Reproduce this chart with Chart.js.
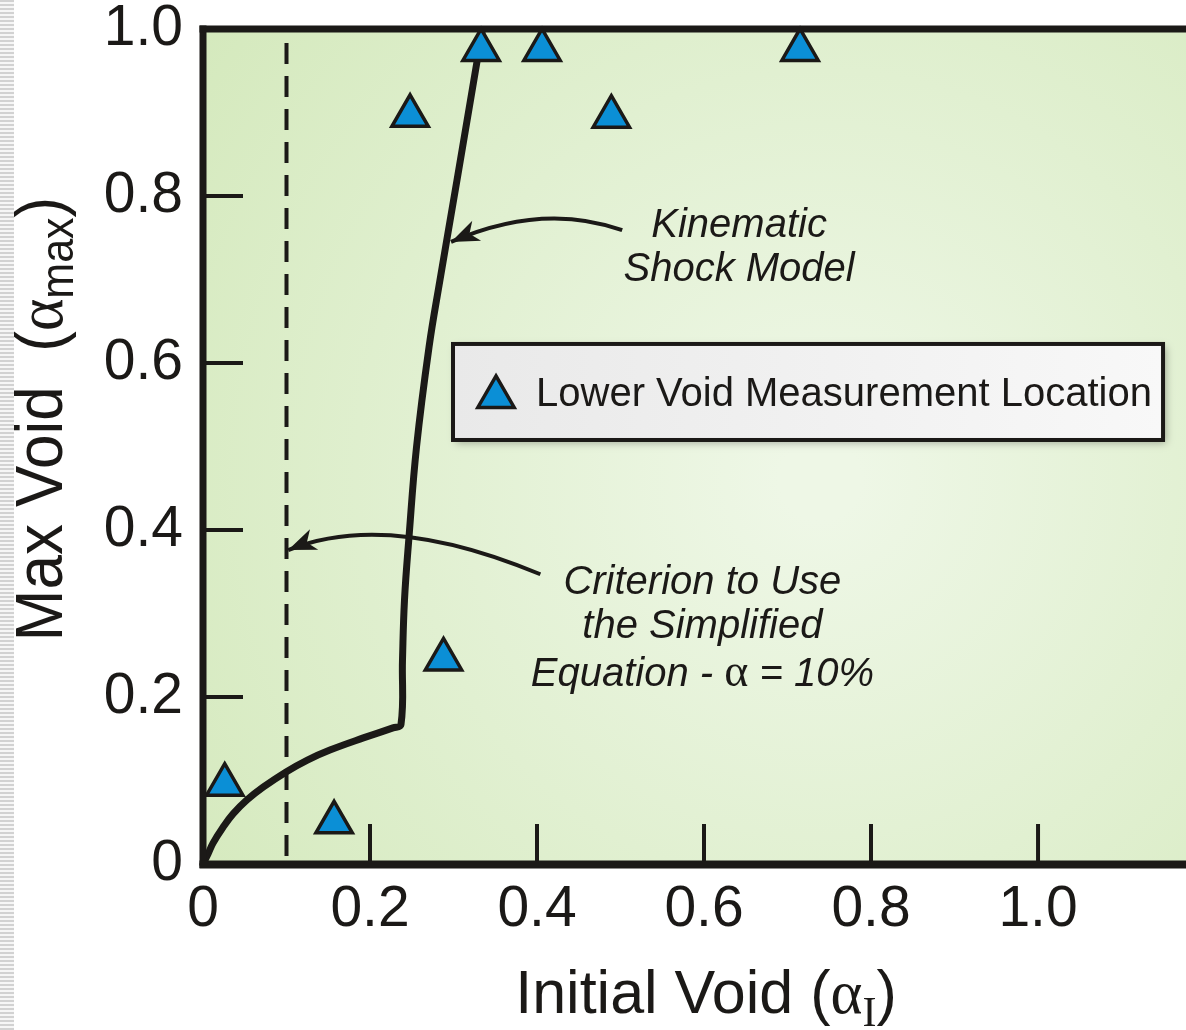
<!DOCTYPE html>
<html>
<head>
<meta charset="utf-8">
<script src="https://cdn.jsdelivr.net/npm/chart.js@4.4.1/dist/chart.umd.min.js"></script>
<style>
  html, body { margin: 0; padding: 0; background: #fff; overflow: hidden; }
  #wrap { position: relative; width: 1186px; height: 1030px; }
  #chart { display: block; }
  #strip { position: absolute; left: 0; top: 0; width: 14px; height: 1030px;
           background: repeating-linear-gradient(to bottom, #d2d2d2 0 2px, #f6f6f6 2px 4px); }
</style>
</head>
<body>
<div id="wrap"><canvas id="chart" width="1186" height="1030"></canvas><div id="strip"></div></div>
<script>
// axis ticks
const xTicks = [0, 0.2, 0.4, 0.6, 0.8, 1.0];
const xTickLabels = ['0', '0.2', '0.4', '0.6', '0.8', '1.0'];
const yTicks = [0, 0.2, 0.4, 0.6, 0.8, 1.0];
const yTickLabels = ['0', '0.2', '0.4', '0.6', '0.8', '1.0'];

// lower void measurement location (triangles)
const measX = [0.026, 0.157, 0.288, 0.248, 0.333, 0.406, 0.489, 0.715];
const measY = [0.095, 0.050, 0.245, 0.896, 0.975, 0.975, 0.895, 0.975];

// kinematic shock model curve
const modelX = [0, 0.006, 0.012, 0.024, 0.036, 0.053, 0.072, 0.099, 0.125, 0.152, 0.192, 0.2275, 0.2371,
                0.2389, 0.2413, 0.2467, 0.2557, 0.2707, 0.2838, 0.3042, 0.3341];
const modelY = [0, 0.012, 0.025, 0.044, 0.060, 0.077, 0.092, 0.110, 0.1245, 0.1365, 0.151, 0.163, 0.167,
                0.2443, 0.3162, 0.3916, 0.4994, 0.6192, 0.6994, 0.8192, 0.9964];

// criterion alpha = 10%
const criterionX = 0.1;

const SANS = "'Liberation Sans', Arial, sans-serif";
const SERIF = "'Liberation Serif', 'Times New Roman', serif";
const INK = '#1b1917';

// annotation anchors, in data units
const kinText = { x: 0.642, y: [0.751, 0.698], lines: ['Kinematic', 'Shock Model'] };
const critText = { x: 0.598, y: [0.323, 0.271, 0.213] };
const kinArrow = { from: [0.502, 0.759], ctrl: [0.407, 0.793], to: [0.297, 0.745] };
const critArrow = { from: [0.404, 0.347], ctrl: [0.220, 0.424], to: [0.102, 0.376] };
const legendBox = { x0: 0.2994, x1: 1.1497, y0: 0.6228, y1: 0.5078 };

function px(chart, x, y) {
  return [chart.scales.x.getPixelForValue(x), chart.scales.y.getPixelForValue(y)];
}

function drawParts(ctx, parts, cx, baseY) {
  let total = 0;
  parts.forEach(p => { ctx.font = p.font; p.w = ctx.measureText(p.t).width; total += p.w; });
  let x = cx - total / 2;
  ctx.textAlign = 'left';
  ctx.textBaseline = 'alphabetic';
  parts.forEach(p => { ctx.font = p.font; ctx.fillText(p.t, x, baseY + (p.dy || 0)); x += p.w; });
}

function arrow(ctx, chart, a) {
  const p0 = px(chart, a.from[0], a.from[1]);
  const c = px(chart, a.ctrl[0], a.ctrl[1]);
  const p2 = px(chart, a.to[0], a.to[1]);
  ctx.beginPath();
  ctx.moveTo(p0[0], p0[1]);
  ctx.quadraticCurveTo(c[0], c[1], p2[0], p2[1]);
  ctx.lineWidth = 4;
  ctx.strokeStyle = INK;
  ctx.stroke();
  const dx = p2[0] - c[0], dy = p2[1] - c[1];
  const len = Math.hypot(dx, dy);
  const ux = dx / len, uy = dy / len, nx = -uy, ny = ux;
  const L = 28, W = 11;
  ctx.beginPath();
  ctx.moveTo(p2[0], p2[1]);
  ctx.lineTo(p2[0] - ux * L + nx * W, p2[1] - uy * L + ny * W);
  ctx.lineTo(p2[0] - ux * L * 0.72, p2[1] - uy * L * 0.72);
  ctx.lineTo(p2[0] - ux * L - nx * W, p2[1] - uy * L - ny * W);
  ctx.closePath();
  ctx.fillStyle = INK;
  ctx.fill();
}

const decor = {
  id: 'decor',
  beforeDraw(chart) {
    const { ctx, chartArea: a } = chart;
    const g = ctx.createRadialGradient(820, 480, 40, 820, 480, 780);
    g.addColorStop(0, '#eef7e6');
    g.addColorStop(1, '#d4e9bc');
    ctx.save();
    ctx.fillStyle = g;
    ctx.fillRect(a.left, a.top, a.right - a.left, a.bottom - a.top);
    ctx.restore();
  },
  beforeDatasetsDraw(chart) {
    const { ctx, chartArea: a, scales } = chart;
    ctx.save();
    ctx.strokeStyle = INK;
    ctx.lineWidth = 4;
    scales.x.ticks.forEach(t => {
      const x = scales.x.getPixelForValue(t.value);
      ctx.beginPath(); ctx.moveTo(x, a.bottom); ctx.lineTo(x, a.bottom - 40); ctx.stroke();
    });
    scales.y.ticks.forEach(t => {
      const y = scales.y.getPixelForValue(t.value);
      ctx.beginPath(); ctx.moveTo(a.left, y); ctx.lineTo(a.left + 40, y); ctx.stroke();
    });
    ctx.restore();
  },
  afterDatasetsDraw(chart) {
    const { ctx, chartArea: a } = chart;
    ctx.save();
    // frame (left, top, bottom; right side runs off the page)
    ctx.fillStyle = INK;
    ctx.fillRect(a.left - 3.5, a.top - 3.5, 7, a.bottom - a.top + 7.5);
    ctx.fillRect(a.left - 3.5, a.top - 3.5, a.right - a.left + 4, 7);
    ctx.fillRect(a.left - 3.5, a.bottom - 3.5, a.right - a.left + 4, 8);

    // arrows
    arrow(ctx, chart, kinArrow);
    arrow(ctx, chart, critArrow);

    // annotation text
    ctx.fillStyle = INK;
    ctx.textAlign = 'center';
    ctx.textBaseline = 'alphabetic';
    ctx.font = 'italic 40px ' + SANS;
    kinText.lines.forEach((s, i) => {
      const p = px(chart, kinText.x, kinText.y[i]);
      ctx.fillText(s, p[0], p[1]);
    });
    let p = px(chart, critText.x, critText.y[0]);
    ctx.fillText('Criterion to Use', p[0], p[1]);
    p = px(chart, critText.x, critText.y[1]);
    ctx.fillText('the Simplified', p[0], p[1]);
    p = px(chart, critText.x, critText.y[2]);
    drawParts(ctx, [
      { t: 'Equation - ', font: 'italic 40px ' + SANS },
      { t: 'α', font: '46px ' + SERIF },
      { t: ' = 10%', font: 'italic 40px ' + SANS }
    ], p[0], p[1]);

    // legend box
    const b0 = px(chart, legendBox.x0, legendBox.y0);
    const b1 = px(chart, legendBox.x1, legendBox.y1);
    const bw = b1[0] - b0[0], bh = b1[1] - b0[1];
    ctx.save();
    ctx.shadowColor = 'rgba(0,0,0,0.3)';
    ctx.shadowBlur = 8;
    ctx.shadowOffsetX = 3;
    ctx.shadowOffsetY = 3;
    const lg = ctx.createLinearGradient(b0[0], 0, b1[0], 0);
    lg.addColorStop(0, '#e9e9e9');
    lg.addColorStop(1, '#f8f8f8');
    ctx.fillStyle = lg;
    ctx.fillRect(b0[0], b0[1], bw, bh);
    ctx.restore();
    ctx.lineWidth = 4;
    ctx.strokeStyle = INK;
    ctx.strokeRect(b0[0], b0[1], bw, bh);

    const ds = chart.data.datasets[0];
    const mx = b0[0] + 43, my = b0[1] + 53;
    const r = 21;
    ctx.fillStyle = ds.backgroundColor;
    ctx.strokeStyle = ds.borderColor;
    ctx.lineWidth = 3.5;
    ctx.beginPath();
    ctx.moveTo(mx, my - r);
    ctx.lineTo(mx + r * Math.sin(2 * Math.PI / 3), my - r * Math.cos(2 * Math.PI / 3));
    ctx.lineTo(mx + r * Math.sin(4 * Math.PI / 3), my - r * Math.cos(4 * Math.PI / 3));
    ctx.closePath();
    ctx.fill();
    ctx.stroke();
    ctx.fillStyle = INK;
    ctx.font = '40px ' + SANS;
    ctx.textAlign = 'left';
    ctx.fillText(ds.label, b0[0] + 83, b0[1] + 62);
    ctx.restore();
  },
  afterDraw(chart) {
    const { ctx } = chart;
    ctx.save();
    ctx.fillStyle = INK;
    // x title
    drawParts(ctx, [
      { t: 'Initial Void (', font: '61px ' + SANS },
      { t: 'α', font: '61px ' + SERIF },
      { t: 'I', font: '42px ' + SERIF, dy: 13 },
      { t: ')', font: '61px ' + SANS }
    ], 706, 1013);
    // y title
    ctx.translate(62, 419);
    ctx.rotate(-Math.PI / 2);
    ctx.scale(1, 1.07);
    drawParts(ctx, [
      { t: 'Max Void  (', font: '62px ' + SANS },
      { t: 'α', font: '62px ' + SERIF },
      { t: 'max', font: '43px ' + SANS, dy: 10 },
      { t: ')', font: '62px ' + SANS }
    ], 0, 0);
    ctx.restore();
  }
};

function noPad(s) {
  s.paddingTop = 0; s.paddingBottom = 0; s.paddingLeft = 0; s.paddingRight = 0;
}

const chart = new Chart(document.getElementById('chart'), {
  type: 'scatter',
  data: {
    datasets: [
      {
        label: 'Lower Void Measurement Location',
        data: measX.map((x, i) => ({ x, y: measY[i] })),
        pointStyle: 'triangle',
        pointRadius: 21,
        pointBorderWidth: 3.5,
        backgroundColor: '#0b8fd6',
        borderColor: INK,
        clip: false
      },
      {
        label: 'Kinematic Shock Model',
        type: 'line',
        data: modelX.map((x, i) => ({ x, y: modelY[i] })),
        borderColor: INK,
        borderWidth: 7,
        pointRadius: 0,
        tension: 0.4,
        borderJoinStyle: 'round',
        borderCapStyle: 'round',
        fill: false,
        clip: false
      },
      {
        label: 'Criterion',
        type: 'line',
        data: [{ x: criterionX, y: 0 }, { x: criterionX, y: 1 }],
        borderColor: INK,
        borderWidth: 4,
        borderDash: [21, 12],
        borderDashOffset: -8,
        pointRadius: 0,
        fill: false
      }
    ]
  },
  options: {
    responsive: false,
    animation: false,
    events: [],
    layout: { autoPadding: false, padding: { top: 29, left: 0, right: 0, bottom: 0 } },
    plugins: { legend: { display: false }, tooltip: { enabled: false } },
    scales: {
      x: {
        type: 'linear',
        min: 0,
        max: 1.1772,
        afterBuildTicks: s => { s.ticks = xTicks.map(v => ({ value: v })); },
        afterFit: s => { s.height = 166; noPad(s); },
        grid: { display: false, drawTicks: false },
        border: { display: false },
        ticks: {
          padding: 18,
          color: INK,
          font: { family: SANS, size: 57, lineHeight: 1 },
          maxRotation: 0,
          autoSkip: false,
          callback: (v, i) => xTickLabels[i]
        }
      },
      y: {
        type: 'linear',
        min: 0,
        max: 1,
        afterBuildTicks: s => { s.ticks = yTicks.map(v => ({ value: v })); },
        afterFit: s => { s.width = 203; noPad(s); },
        grid: { display: false, drawTicks: false },
        border: { display: false },
        ticks: {
          padding: 20,
          color: INK,
          font: { family: SANS, size: 57, lineHeight: 1 },
          autoSkip: false,
          callback: (v, i) => yTickLabels[i]
        }
      }
    }
  },
  plugins: [decor]
});
</script>
</body>
</html>
